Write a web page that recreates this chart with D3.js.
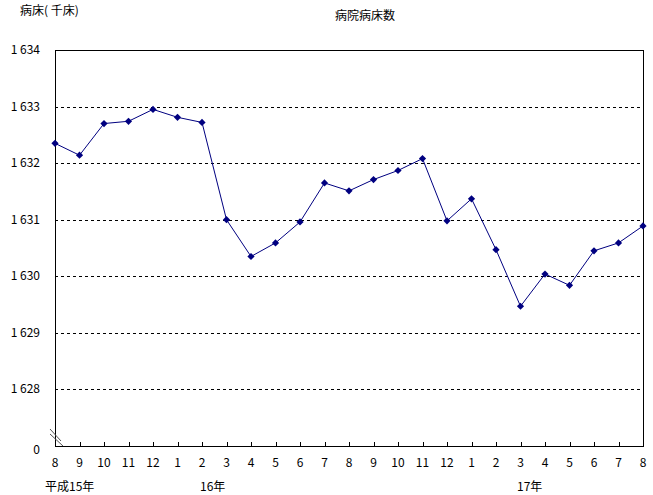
<!DOCTYPE html>
<html><head><meta charset="utf-8">
<script src="https://cdn.jsdelivr.net/npm/d3@7"></script>
<style>body{margin:0;background:#fff}svg text{font-family:"Noto Sans CJK JP",sans-serif;font-size:12px;fill:#000}</style>
</head><body><svg id="c" width="653" height="495"></svg>
<script>
const months = ["8","9","10","11","12","1","2","3","4","5","6","7","8","9","10","11","12","1","2","3","4","5","6","7","8"];
const values = [1632.35,1632.14,1632.70,1632.74,1632.95,1632.81,1632.72,1631.00,1630.35,1630.59,1630.96,1631.65,1631.51,1631.71,1631.87,1632.08,1630.98,1631.37,1630.47,1629.47,1630.04,1629.84,1630.45,1630.59,1630.89];
const yTicks = [1628,1629,1630,1631,1632,1633,1634];
const yearLabels = [{i:0,t:"平成15年"},{i:6,t:"16年"},{i:19,t:"17年"}];
const title = "病院病床数", yTitle = "病床( 千床)";

const svg = d3.select("#c");
const L=55,R=643,T=50,B=446;
const x = d3.scalePoint().domain(d3.range(months.length)).range([L,R]);
const y = d3.scaleLinear().domain([1627,1634]).range([B,T]);

// gridlines
svg.append("g").selectAll("line").data(yTicks.slice(0,-1)).join("line")
  .attr("x1",L).attr("x2",R).attr("y1",d=>Math.round(y(d))+0.5).attr("y2",d=>Math.round(y(d))+0.5)
  .attr("stroke","#000").attr("stroke-dasharray","3,3");
// frame
svg.append("rect").attr("x",L+0.5).attr("y",T+0.5).attr("width",R-L).attr("height",B-T)
  .attr("fill","none").attr("stroke","#000");
// y labels
const fmt = d=>{const s=String(d);return s[0]+" "+s.slice(1);};
svg.append("g").selectAll("text").data(yTicks).join("text")
  .attr("x",40).attr("y",d=>y(d)+4).attr("text-anchor","end").text(fmt);
svg.append("text").attr("x",40).attr("y",y(1627)+8).attr("text-anchor","end").text("0");
// break mark
const bk=svg.append("g").attr("stroke","#555").attr("stroke-width",1);
bk.append("line").attr("x1",50).attr("y1",429).attr("x2",61).attr("y2",441);
bk.append("line").attr("x1",50).attr("y1",434).attr("x2",63).attr("y2",446);
// x ticks
svg.append("g").selectAll("line").data(d3.range(months.length)).join("line")
  .attr("x1",d=>Math.round(x(d))+0.5).attr("x2",d=>Math.round(x(d))+0.5).attr("y1",B).attr("y2",B-4)
  .attr("stroke","#000");
svg.append("g").selectAll("text").data(months).join("text")
  .attr("x",(d,i)=>x(i)).attr("y",467).attr("text-anchor","middle").text(d=>d);
svg.append("g").selectAll("text").data(yearLabels).join("text")
  .attr("x",d=>d.i===0?45:(d.i===6?200:517)).attr("y",491).text(d=>d.t);
// titles
svg.append("text").attr("x",365).attr("y",20).attr("text-anchor","middle").text(title);
svg.append("text").attr("x",20).attr("y",15).text(yTitle);
// line
svg.append("path").datum(values).attr("fill","none").attr("stroke","#000080").attr("stroke-width",1)
  .attr("d",d3.line().x((d,i)=>x(i)).y(d=>y(d)));
svg.append("g").selectAll("path").data(values).join("path")
  .attr("transform",(d,i)=>`translate(${x(i)},${y(d)}) rotate(45)`)
  .attr("d",d3.symbol(d3.symbolSquare,26)).attr("fill","#000080");
</script></body></html>
